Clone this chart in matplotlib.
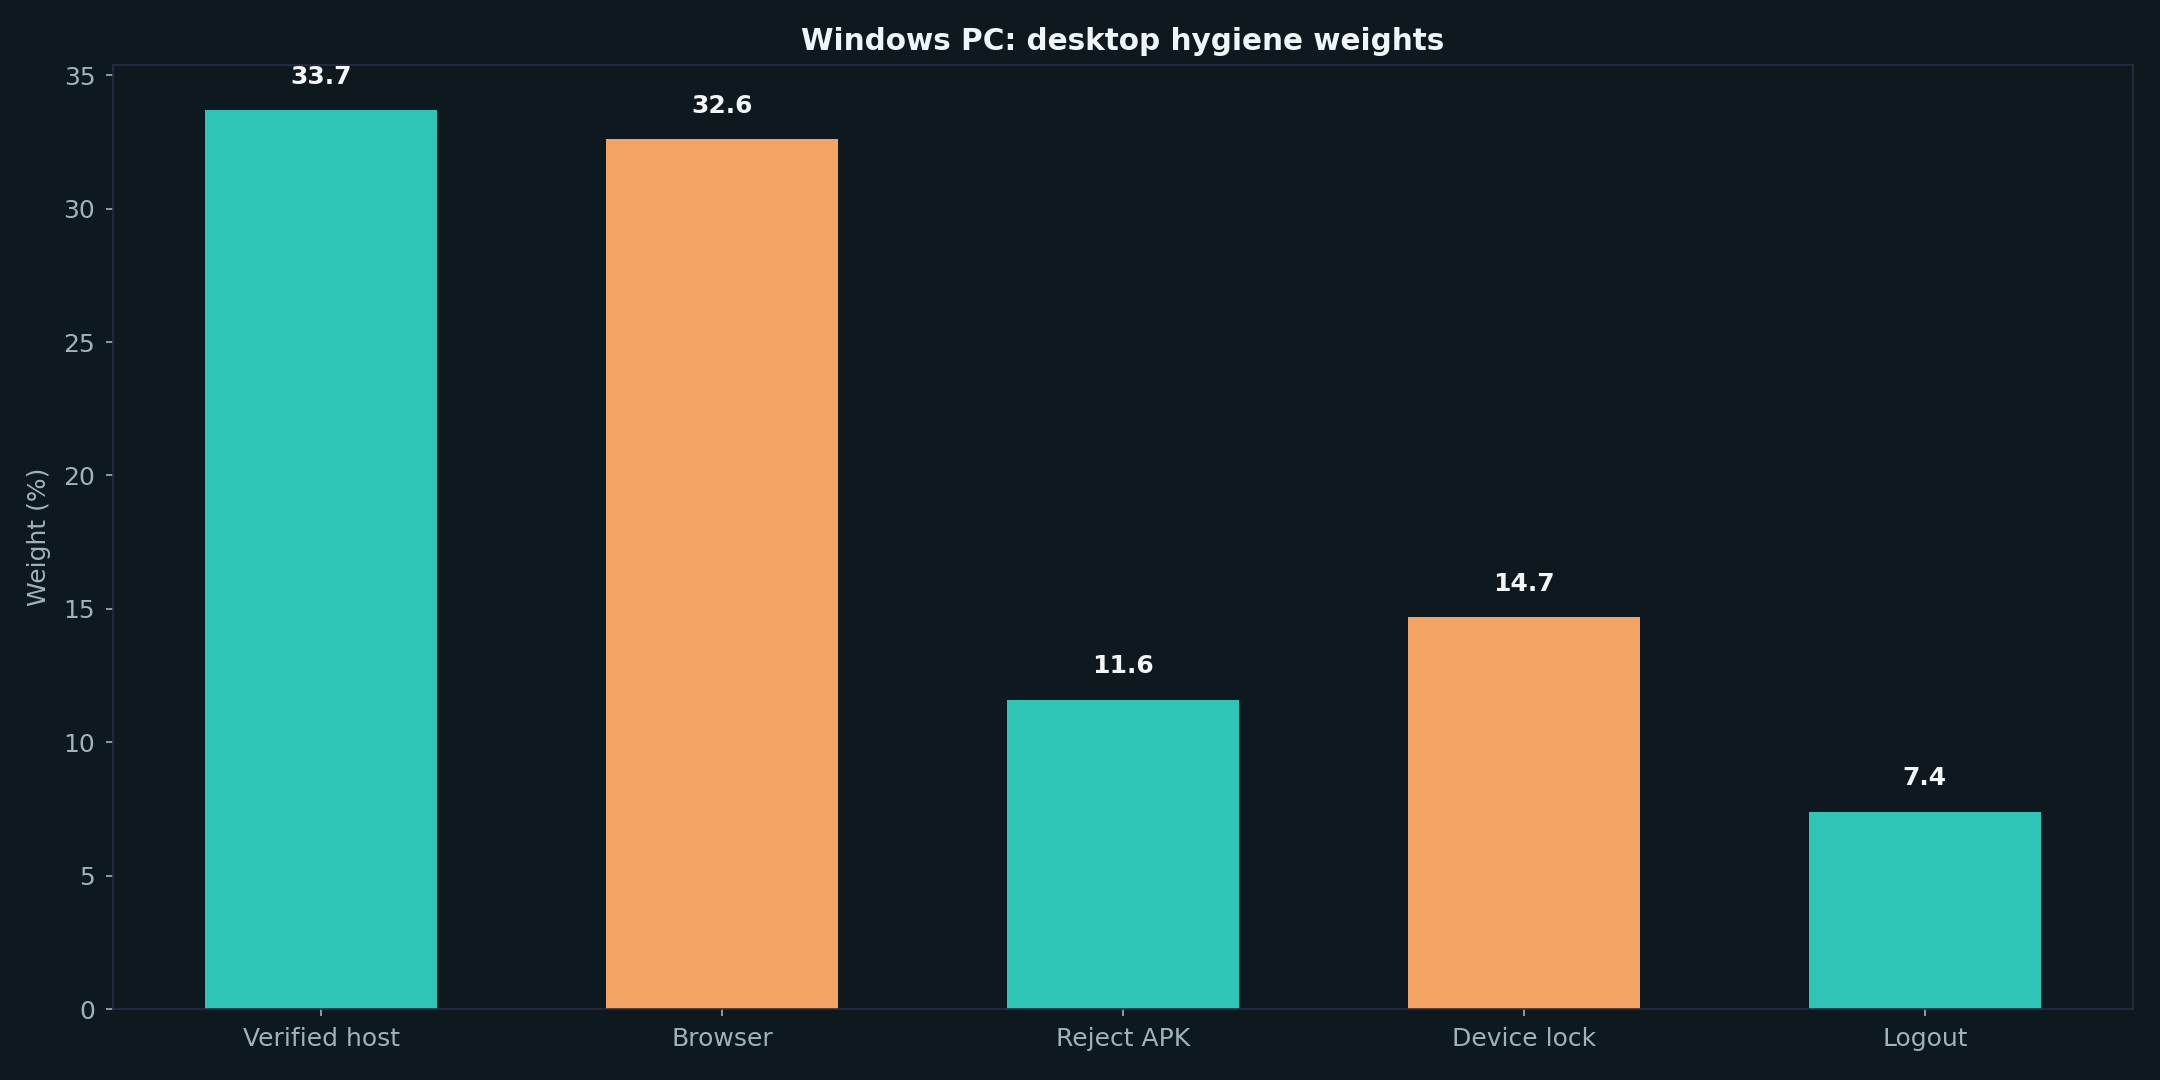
import numpy as np
import matplotlib
matplotlib.use("Agg")
import matplotlib.pyplot as plt

categories = ["Verified host", "Browser", "Reject APK", "Device lock", "Logout"]
weights = [33.7, 32.6, 11.6, 14.7, 7.4]

BG = "#0d191e"
TEAL = "#2ec4b6"
ORANGE = "#f4a462"
SPINE = "#2a2d45"
TICK = "#9fb3b8"
colors = [TEAL if i % 2 == 0 else ORANGE for i in range(len(categories))]

fig, ax = plt.subplots(figsize=(14.4, 7.2), dpi=150)
fig.patch.set_facecolor(BG)
ax.set_facecolor(BG)

x = np.arange(len(categories))
ax.bar(x, weights, width=0.58, color=colors)
for xi, v in zip(x, weights):
    ax.text(xi, v + 0.8, f"{v:.1f}", ha="center", va="bottom",
            fontsize=12, fontweight="bold", color="#f2f6f7")

ax.set_xticks(x)
ax.set_xticklabels(categories)
ax.set_ylim(0, max(weights) * 1.05)
ax.set_ylabel("Weight (%)", fontsize=12, color=TICK, labelpad=6)
ax.set_title("Windows PC: desktop hygiene weights", fontsize=14.2,
             fontweight="bold", color="#eef6f8", pad=7)
ax.tick_params(colors=TICK, labelsize=12, pad=5)
for s in ax.spines.values():
    s.set_color(SPINE)

fig.subplots_adjust(left=0.0523, right=0.9875, top=0.9398, bottom=0.0657)
fig.savefig("out.png", dpi=150, facecolor=BG)
